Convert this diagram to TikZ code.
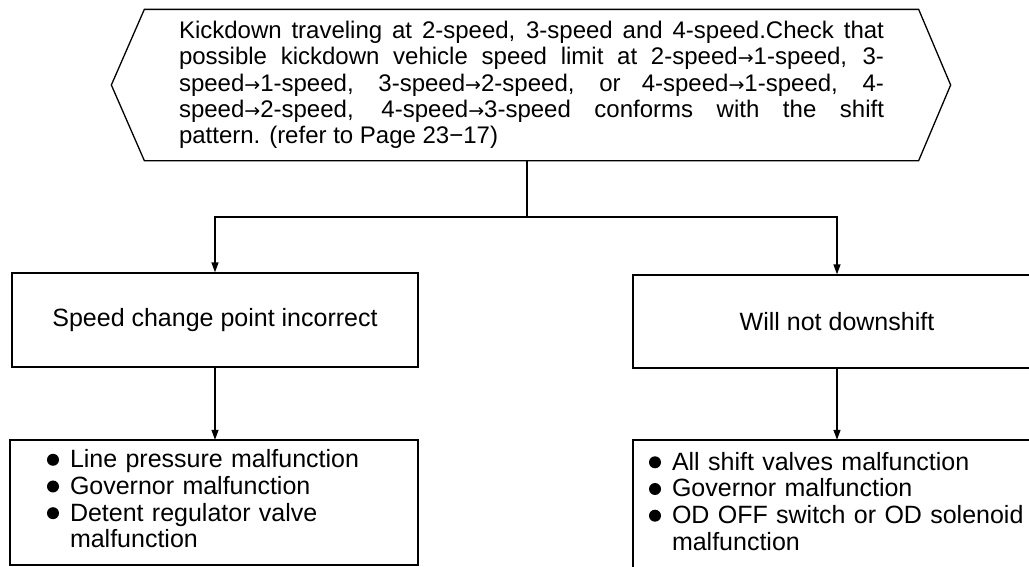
\documentclass[tikz,border=0pt]{standalone}
\usepackage{fontspec}
\setmainfont{Liberation Sans}
\newfontfamily\arrowfont{DejaVu Sans}
\usetikzlibrary{arrows.meta}
\newcommand{\bul}{\tikz[baseline=0pt,x=1pt,y=1pt]\fill (6,8) circle[radius=6pt];}
\newcommand{\tto}{{\arrowfont\fontsize{19}{19}\selectfont →}}
\begin{document}
\begin{tikzpicture}[x=1pt,y=-1pt, line width=1.3pt,
  box/.style={draw, rectangle, inner sep=0pt, font=\fontsize{25}{26.7}\selectfont},
  arr/.style={-{Triangle[length=10pt,width=7pt]}}]
\useasboundingbox (0,0) rectangle (1029,566);
\clip (0,0) rectangle (1029,566);
\node[rectangle, inner xsep=34pt, inner ysep=0pt, text width=705pt, minimum height=150pt,
      align=justify, font=\fontsize{24}{26.3}\selectfont] (top) at (531.5,85)
 {Kickdown traveling at 2-speed, 3-speed and 4-speed.Check that\linebreak
  possible kickdown vehicle speed limit at 2-speed\tto1-speed, 3-\linebreak
  speed\tto1-speed, 3-speed\tto2-speed, or 4-speed\tto1-speed, 4-\linebreak
  speed\tto2-speed, 4-speed\tto3-speed conforms with the shift\linebreak
  pattern. (refer to Page 23−17)};
\draw (top.north west) -- (top.north east) -- ([xshift=32pt]top.east) -- (top.south east)
  -- (top.south west) -- ([xshift=-33pt]top.west) -- cycle;
\node[box, minimum width=406pt, minimum height=94pt] (b1) at (215,320) {Speed change point incorrect};
\node[box, minimum width=408pt, minimum height=93pt] (b2) at (837,321.5) {Will not downshift};
\node[box, text width=334pt, inner xsep=37pt, minimum height=125pt, align=left] (c1) at (214,502.5)
 {\begin{tabular}{@{}l@{\hspace{11pt}}l@{}}
  \bul & Line pressure malfunction\\
  \bul & Governor malfunction\\
  \bul & Detent regulator valve\\
       & malfunction
  \end{tabular}};
\node[box, text width=376pt, inner xsep=16pt, minimum height=130pt, align=left] (c2) at (837,505)
 {\begin{tabular}{@{}l@{\hspace{11pt}}l@{}}
  \bul & All shift valves malfunction\\
  \bul & Governor malfunction\\
  \bul & OD OFF switch or OD solenoid\\
       & malfunction
  \end{tabular}};
\coordinate (j) at (527,217);
\draw (j |- top.south) -- (j);
\draw[arr] (j) -| (b1.north);
\draw[arr] (j) -| (b2.north);
\draw[arr] (b1.south) -- (b1.south |- c1.north);
\draw[arr] (b2.south) -- (b2.south |- c2.north);
\end{tikzpicture}
\end{document}
